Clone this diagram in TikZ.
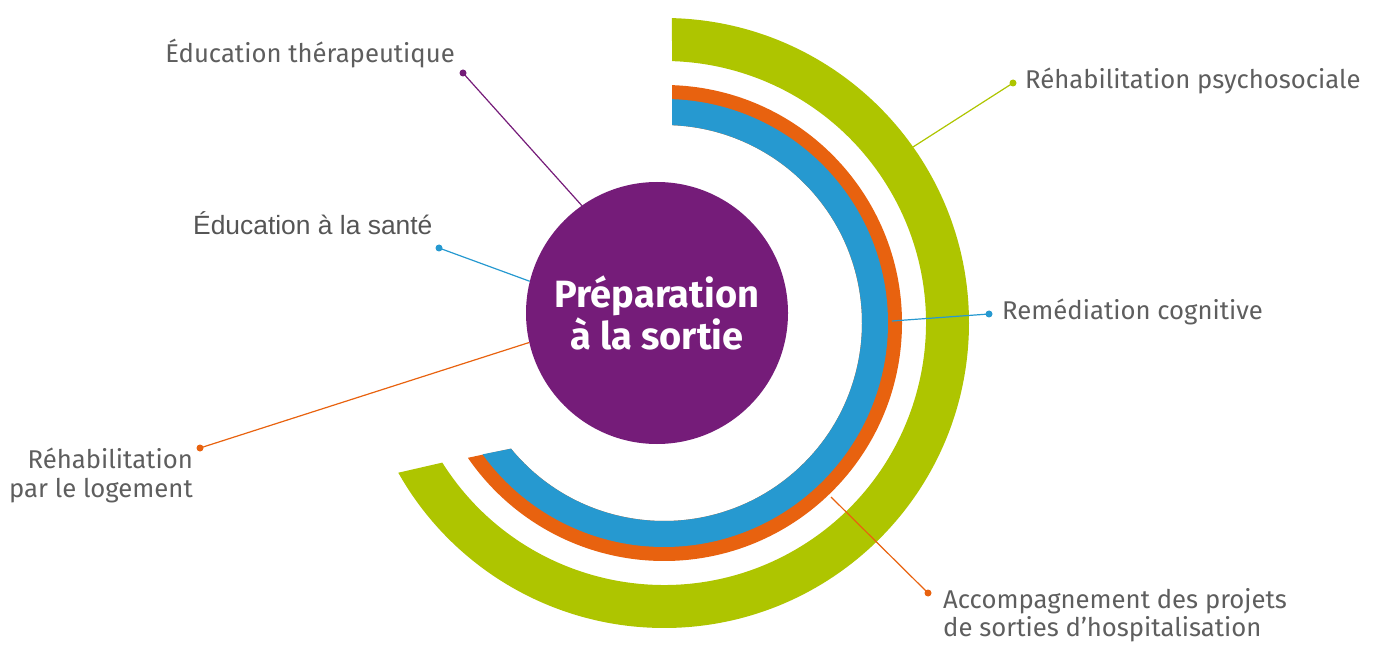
\documentclass[tikz,border=0pt]{standalone}
\usepackage{fontspec}
\setmainfont{Fira Sans}
\newfontfamily\arialfont{Liberation Sans}
\definecolor{cpurple}{HTML}{751C79}
\definecolor{cgreen}{HTML}{AEC500}
\definecolor{corange}{HTML}{E8620F}
\definecolor{cblue}{HTML}{2699D0}
\definecolor{ctext}{HTML}{5E5E5E}
\definecolor{ctextb}{HTML}{555555}
\begin{document}
\begin{tikzpicture}[x=1pt,y=1pt,
  dot/.style={circle,inner sep=0pt,minimum size=7pt},
  link/.style={line width=1.2pt},
  lab/.style={inner sep=0pt,text=ctext,font=\fontsize{25.7}{27}\selectfont},
  centre/.style={circle,fill=cpurple,minimum size=262pt,inner sep=0pt,text=white,align=center,
    font=\fontsize{38}{32}\selectfont\bfseries}]
\useasboundingbox (0,0) rectangle (1373,646);
\coordinate (A) at (664,323);
% bands
\fill[cgreen] ([shift={(88.5:305)}]A) arc[start angle=88.5,end angle=-150.6,radius=305]
  -- ([shift={(-147.8:262)}]A) arc[start angle=-147.8,end angle=88.25,radius=262] -- cycle;
\fill[corange] ([shift={(88.07:238)}]A) arc[start angle=88.07,end angle=-145.5,radius=238]
  -- ([shift={(-140.6:198)}]A) arc[start angle=-140.6,end angle=87.68,radius=198] -- cycle;
\fill[cblue] ([shift={(87.95:224)}]A) arc[start angle=87.95,end angle=-144.1,radius=224]
  -- ([shift={(-140.6:198)}]A) arc[start angle=-140.6,end angle=87.68,radius=198] -- cycle;
% centre
\node[centre] (c) at (657,333) {Préparation\\à la sortie};
% arc end points
\coordinate (eg) at (913,499);
\coordinate (eb) at (892,325);
\coordinate (eo) at (831,149);
% dots
\node[dot,fill=cpurple] (d1) at (463,573) {};
\node[dot,fill=cblue] (d2) at (439,398) {};
\node[dot,fill=corange] (d3) at (200,198) {};
\node[dot,fill=cgreen] (d4) at (1013,563) {};
\node[dot,fill=cblue] (d5) at (989,332) {};
\node[dot,fill=corange] (d6) at (928,53) {};
% links
\draw[link,cpurple] (d1.center) -- (c.125.1);
\draw[link,cblue] (d2.center) -- (c.166.7);
\draw[link,corange] (d3.center) -- (c.193.3);
\draw[link,cgreen] (d4.center) -- (eg);
\draw[link,cblue] (d5.center) -- (eb);
\draw[link,corange] (d6.center) -- (eo);
% labels
\node[lab,anchor=base east] (l1) at (455,583) {Éducation thérapeutique};
\node[inner sep=0pt,text=ctextb,font=\arialfont\fontsize{26.4}{30}\selectfont,anchor=base west] (l2) at (193,411) {Éducation à la santé};
\node[lab,anchor=base east] (l3a) at (193,178) {Réhabilitation};
\node[lab,anchor=base east] (l3b) at (193,149) {par le logement};
\node[lab,anchor=base west] (l4) at (1025,557) {Réhabilitation psychosociale};
\node[lab,anchor=base west] (l5) at (1002,326) {Remédiation cognitive};
\node[lab,anchor=base west] (l6a) at (943,38) {Accompagnement des projets};
\node[lab,anchor=base west] (l6b) at (943,10) {de sorties d’hospitalisation};
\end{tikzpicture}
\end{document}
